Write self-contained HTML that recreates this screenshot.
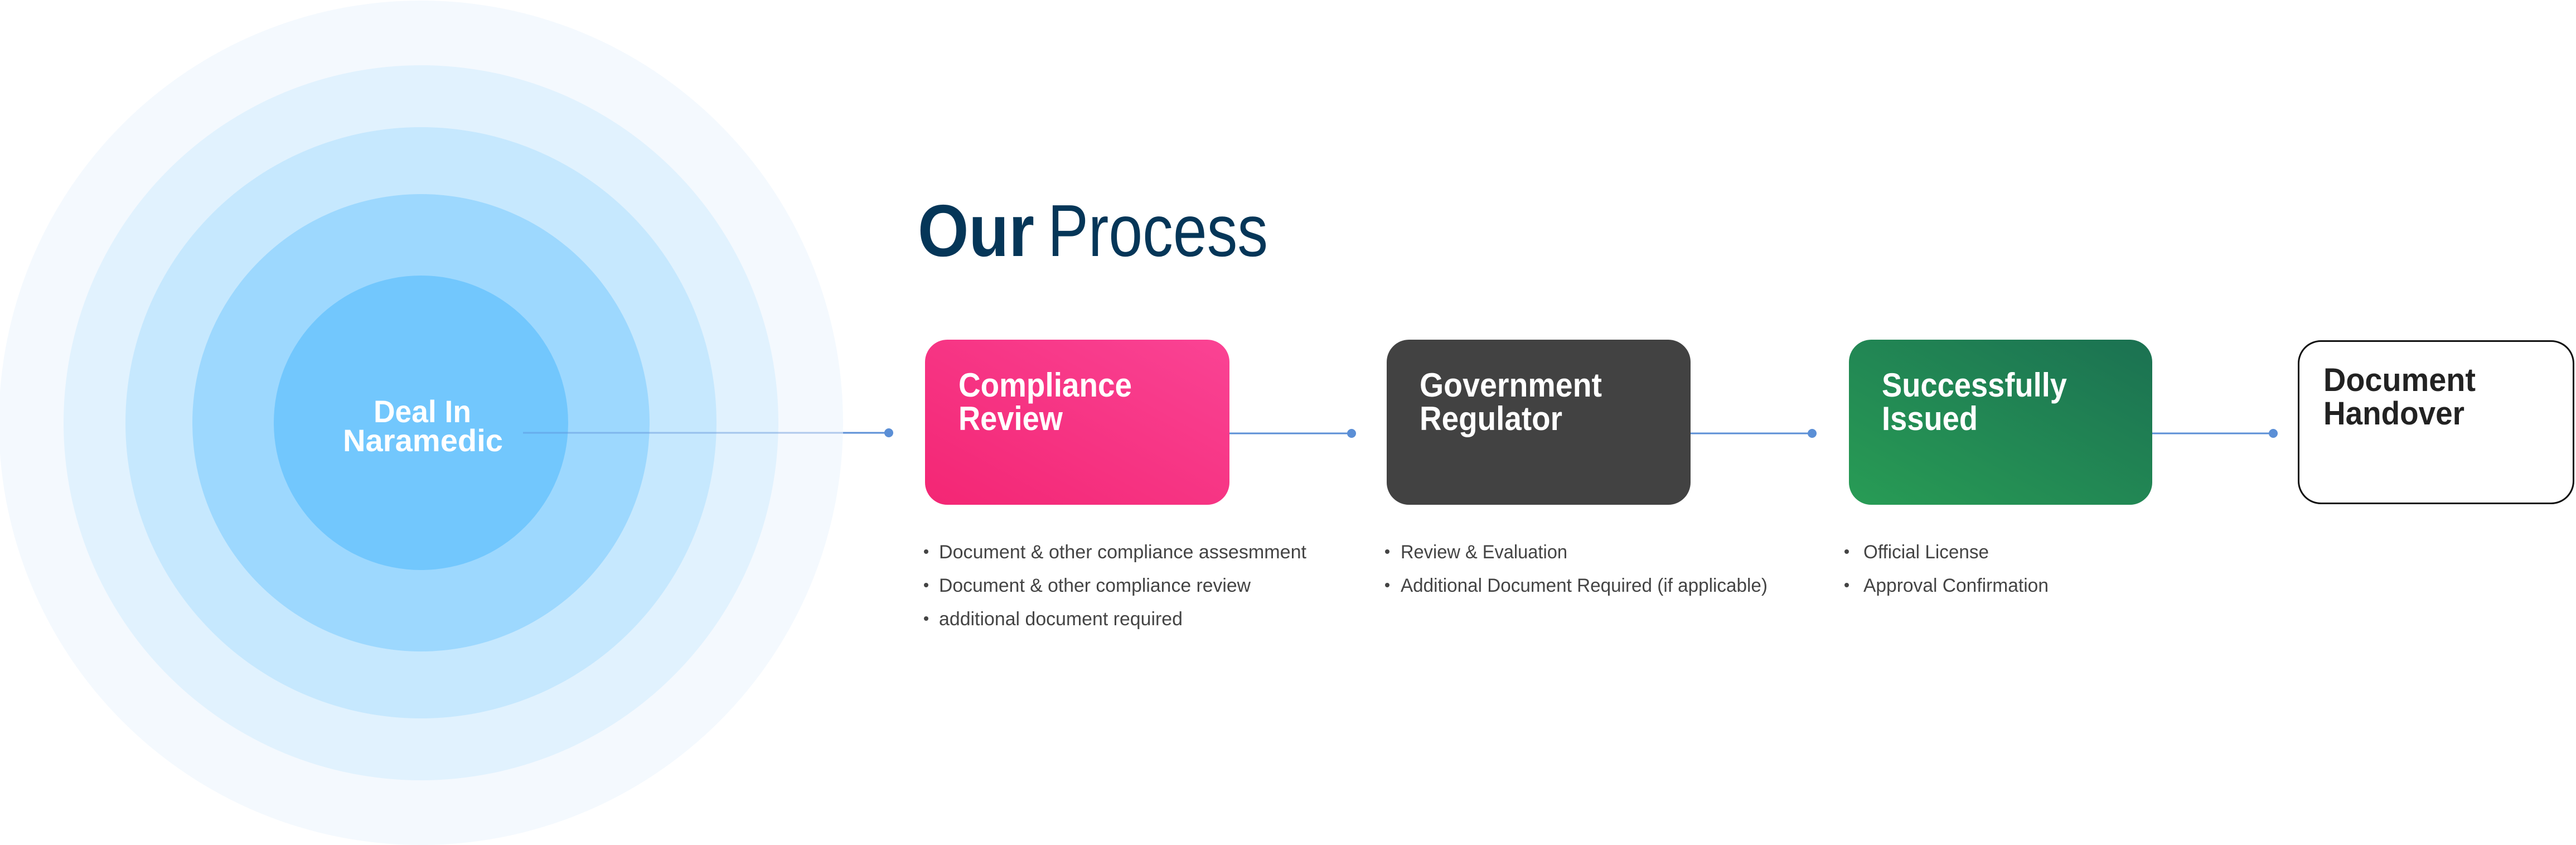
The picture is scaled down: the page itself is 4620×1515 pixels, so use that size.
<!DOCTYPE html>
<html><head><meta charset="utf-8"><style>
html,body{margin:0;padding:0;background:#fff;}
svg{display:block;}
text{font-family:"Liberation Sans",sans-serif;}
</style></head><body>
<svg width="4620" height="1515" viewBox="0 0 4620 1515" xmlns="http://www.w3.org/2000/svg">
<defs>
<linearGradient id="gp" x1="0" y1="1" x2="1" y2="0"><stop offset="0" stop-color="#f32674"/><stop offset="1" stop-color="#fa4394"/></linearGradient>
<linearGradient id="gg" x1="0" y1="1" x2="1" y2="0"><stop offset="0" stop-color="#289c55"/><stop offset="1" stop-color="#1b7152"/></linearGradient>
</defs>
<circle cx="755" cy="758" r="757" fill="#f4f9fe"/>
<circle cx="755" cy="758" r="641" fill="#e1f2fe"/>
<circle cx="755" cy="758" r="530" fill="#c6e8fe"/>
<circle cx="755" cy="758" r="410" fill="#9dd8fe"/>
<circle cx="755" cy="758" r="264" fill="#72c7fd"/>
<line x1="938" y1="776" x2="1594" y2="776" stroke="#5b8fd6" stroke-width="3" stroke-opacity="0.45"/>
<line x1="1512" y1="776" x2="1594" y2="776" stroke="#5b8fd6" stroke-width="3"/>
<circle cx="1594" cy="776" r="8" fill="#5b8fd6"/>
<text x="670" y="757" font-size="56" font-weight="bold" fill="#fff" textLength="175" lengthAdjust="spacingAndGlyphs">Deal In</text>
<text x="615" y="809" font-size="56" font-weight="bold" fill="#fff" textLength="287" lengthAdjust="spacingAndGlyphs">Naramedic</text>

<text x="1646" y="459" font-size="132" font-weight="bold" fill="#053658" textLength="209" lengthAdjust="spacingAndGlyphs">Our</text>
<text x="1879" y="459" font-size="132" fill="#053658" textLength="395" lengthAdjust="spacingAndGlyphs">Process</text>

<line x1="2205" y1="777" x2="2424" y2="777" stroke="#5b8fd6" stroke-width="3"/>
<circle cx="2424" cy="777" r="8" fill="#5b8fd6"/>
<line x1="3032" y1="777" x2="3250" y2="777" stroke="#5b8fd6" stroke-width="3"/>
<circle cx="3250" cy="777" r="8" fill="#5b8fd6"/>
<line x1="3860" y1="777" x2="4077" y2="777" stroke="#5b8fd6" stroke-width="3"/>
<circle cx="4077" cy="777" r="8" fill="#5b8fd6"/>

<rect x="1659" y="609" width="546" height="296" rx="40" fill="url(#gp)"/>
<text x="1719" y="711" font-size="60" font-weight="bold" fill="#fff" textLength="311" lengthAdjust="spacingAndGlyphs">Compliance</text>
<text x="1719" y="771" font-size="60" font-weight="bold" fill="#fff" textLength="187" lengthAdjust="spacingAndGlyphs">Review</text>

<rect x="2487" y="609" width="545" height="296" rx="40" fill="#424242"/>
<text x="2546" y="711" font-size="60" font-weight="bold" fill="#fff" textLength="327" lengthAdjust="spacingAndGlyphs">Government</text>
<text x="2546" y="771" font-size="60" font-weight="bold" fill="#fff" textLength="256" lengthAdjust="spacingAndGlyphs">Regulator</text>

<rect x="3316" y="609" width="544" height="296" rx="40" fill="url(#gg)"/>
<text x="3375" y="711" font-size="60" font-weight="bold" fill="#fff" textLength="332" lengthAdjust="spacingAndGlyphs">Successfully</text>
<text x="3375" y="771" font-size="60" font-weight="bold" fill="#fff" textLength="172" lengthAdjust="spacingAndGlyphs">Issued</text>

<rect x="4122.5" y="611.5" width="493" height="291" rx="40" fill="#fff" stroke="#111" stroke-width="3"/>
<text x="4167" y="701" font-size="58" font-weight="bold" fill="#222" textLength="273" lengthAdjust="spacingAndGlyphs">Document</text>
<text x="4167" y="761" font-size="58" font-weight="bold" fill="#222" textLength="253" lengthAdjust="spacingAndGlyphs">Handover</text>

<g fill="#444" font-size="34">
<circle cx="1661" cy="989" r="4"/><text x="1684" y="1001" textLength="659" lengthAdjust="spacingAndGlyphs">Document &amp; other compliance assesmment</text>
<circle cx="1661" cy="1049" r="4"/><text x="1684" y="1061" textLength="559" lengthAdjust="spacingAndGlyphs">Document &amp; other compliance review</text>
<circle cx="1661" cy="1109" r="4"/><text x="1684" y="1121" textLength="437" lengthAdjust="spacingAndGlyphs">additional document required</text>
<circle cx="2488" cy="989" r="4"/><text x="2512" y="1001" textLength="299" lengthAdjust="spacingAndGlyphs">Review &amp; Evaluation</text>
<circle cx="2488" cy="1049" r="4"/><text x="2512" y="1061" textLength="658" lengthAdjust="spacingAndGlyphs">Additional Document Required (if applicable)</text>
<circle cx="3312" cy="989" r="4"/><text x="3342" y="1001" textLength="225" lengthAdjust="spacingAndGlyphs">Official License</text>
<circle cx="3312" cy="1049" r="4"/><text x="3342" y="1061" textLength="332" lengthAdjust="spacingAndGlyphs">Approval Confirmation</text>
</g>
</svg>
</body></html>
